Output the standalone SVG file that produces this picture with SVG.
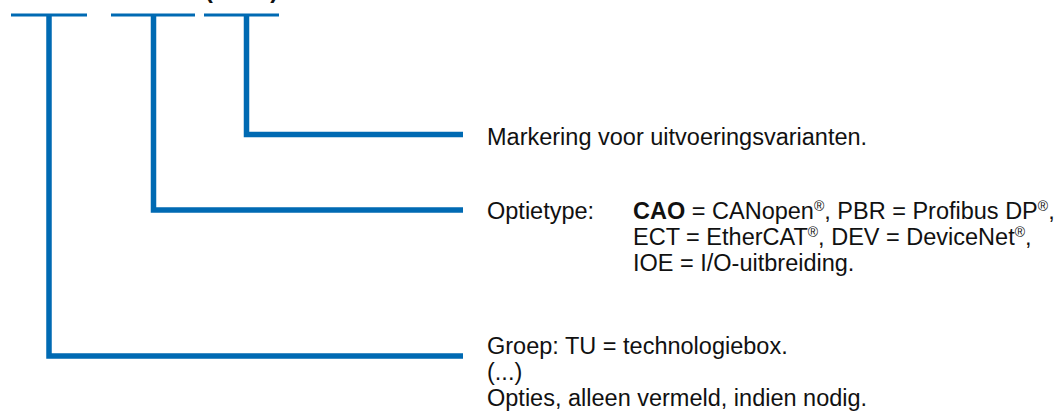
<svg xmlns="http://www.w3.org/2000/svg" width="1064" height="415" viewBox="0 0 1064 415">
  <style>
    .bar { stroke: #006AB3; stroke-width: 3; fill: none; }
    .con { stroke: #006AB3; stroke-width: 5.5; fill: none; stroke-linejoin: miter; stroke-linecap: butt; }
    .t { font-family: "Liberation Sans", Arial, sans-serif; font-size: 23.5px; fill: #111; }
    .b { font-weight: bold; }
    .sup { font-size: 14px; }
  </style>
  <rect width="1064" height="415" fill="#fff"/>
  <g id="code">
    <text class="t b" x="205" y="-2.5" textLength="73" lengthAdjust="spacing">(...)</text>
    <line class="bar" x1="11" y1="15" x2="87" y2="15"/>
    <line class="bar" x1="111" y1="15" x2="195" y2="15"/>
    <line class="bar" x1="204" y1="15" x2="279" y2="15"/>
  </g>
  <g id="connectors">
    <path class="con" d="M49 15 V356 H463"/>
    <path class="con" d="M153.5 15 V210 H463"/>
    <path class="con" d="M246.5 15 V134.5 H463"/>
  </g>
  <g id="node-markering">
    <text class="t" x="487" y="145">Markering voor uitvoeringsvarianten.</text>
  </g>
  <g id="node-optietype">
    <text class="t" x="487" y="219">Optietype:</text>
    <text class="t" x="633" y="219"><tspan class="b">CAO</tspan> = CANopen<tspan class="sup" dy="-8">®</tspan><tspan dy="8">, PBR = Profibus DP</tspan><tspan class="sup" dy="-8">®</tspan><tspan dy="8">,</tspan></text>
    <text class="t" x="633" y="245">ECT = EtherCAT<tspan class="sup" dy="-8">®</tspan><tspan dy="8">, DEV = DeviceNet</tspan><tspan class="sup" dy="-8">®</tspan><tspan dy="8">,</tspan></text>
    <text class="t" x="633" y="271">IOE = I/O-uitbreiding.</text>
  </g>
  <g id="node-groep">
    <text class="t" x="487" y="354">Groep: TU = technologiebox.</text>
    <text class="t" x="487" y="380">(...)</text>
    <text class="t" x="487" y="406">Opties, alleen vermeld, indien nodig.</text>
  </g>
</svg>
